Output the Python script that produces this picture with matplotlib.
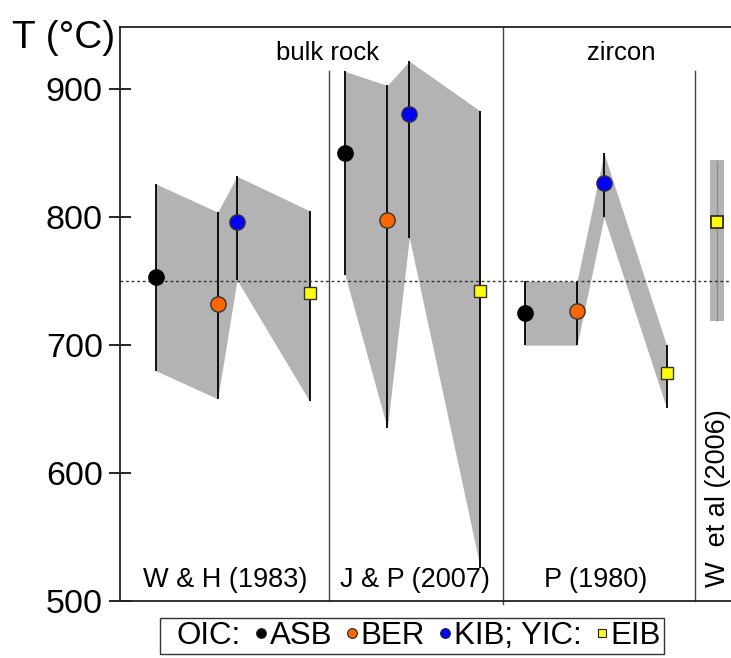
import numpy as np
import matplotlib.pyplot as plt
from matplotlib.lines import Line2D

plt.rcParams['font.family'] = ['Liberation Sans', 'DejaVu Sans']

# estimated temperatures (deg C) per unit, with lower / upper bounds
groups = ['ASB', 'BER', 'KIB', 'EIB']
colors = ['#000000', '#ff6600', '#0000ff', '#ffff00']
shapes = ['o', 'o', 'o', 's']

wh_t = [753, 732, 796, 741]
wh_lo = [680, 658, 751, 656]
wh_hi = [826, 804, 832, 805]

jp_t = [850, 798, 881, 742]
jp_lo = [755, 635, 784, 526]
jp_hi = [914, 903, 922, 883]

p_t = [725, 727, 827, 678]
p_lo = [700, 700, 800, 651]
p_hi = [750, 750, 850, 700]

w_t = 796
w_lo = 719
w_hi = 845

methods = ['W & H (1983)', 'J & P (2007)', 'P (1980)', 'W  et al (2006)']
ref_T = 750

# horizontal layout of the columns
panel_x = [[156, 217.7, 237, 309.7],
           [345, 387.3, 409.3, 480.3],
           [524.7, 577, 604, 666.5]]
w_x = 717
method_x = [224.7, 415, 596]
# (x, bottom, top) of the panel separators
dividers = [(329, 500, 914), (503, 498, 948.7), (695, 500, 914)]

fig = plt.figure(figsize=(7.31, 6.58), dpi=100)
ax = fig.add_axes([119.5 / 731, 1 - 601 / 658, 1 - 119.5 / 731, (601 - 27) / 658])
ax.set_xlim(119.5, 731)
ax.set_ylim(500, 948.7)

gray = '#b3b3b3'
for xs, t, lo, hi in zip(panel_x, [wh_t, jp_t, p_t], [wh_lo, jp_lo, p_lo], [wh_hi, jp_hi, p_hi]):
    ax.fill_between(xs, lo, hi, color=gray, lw=0, zorder=1)
    ax.vlines(xs, lo, hi, color='black', lw=1.3, zorder=2)
    for x, v, c, m in zip(xs, t, colors, shapes):
        ax.plot(x, v, marker=m, ms=11 if m == 'o' else 8, color=c,
                mec='black' if c == '#000000' else '#333333', mew=1, zorder=3)

# single whole-rock range
ax.bar(w_x, w_hi - w_lo, bottom=w_lo, width=14, color=gray, lw=0, zorder=1)
ax.vlines(w_x, w_lo, w_hi, color='#8c8c8c', lw=1, zorder=2)
ax.plot(w_x, w_t, marker='s', ms=8, color=colors[3], mec='#222222', mew=1.2, zorder=3)

ax.axhline(ref_T, color='#333333', lw=1, ls=(0, (2, 2)), zorder=2)

for x, y0, y1 in dividers:
    ax.plot([x, x], [y0, y1], color='#444444', lw=1, clip_on=False, zorder=2)

ax.text(328, 923, 'bulk rock', fontsize=18.5, ha='center', va='baseline')
ax.text(621, 923, 'zircon', fontsize=18.5, ha='center', va='baseline')
for x, name in zip(method_x, methods[:3]):
    ax.text(x, 511, name, fontsize=19.5, ha='center', va='baseline')
ax.text(718, 511, methods[3], fontsize=19.5, ha='center', va='bottom', rotation=90)

ax.spines['right'].set_visible(False)
for s in ['left', 'top', 'bottom']:
    ax.spines[s].set_linewidth(1.3)
    ax.spines[s].set_color('#222222')
ax.set_xticks([])
ax.set_yticks([500, 600, 700, 800, 900])
ax.tick_params(axis='y', direction='inout', length=16, width=1.2, labelsize=24.5, pad=4)

fig.text(12 / 731, 1 - 48 / 658, 'T (°C)', fontsize=28, ha='left', va='baseline')

handles = [Line2D([], [], ls='none')]
labels = ['OIC:']
for g, c, m in zip(groups, colors, shapes):
    handles.append(Line2D([], [], ls='none', marker=m, ms=7 if m == 'o' else 6,
                          color=c, mec='#222222', mew=0.8))
    labels.append('KIB; YIC:' if g == 'KIB' else g)
fig.legend(handles, labels, ncol=5, loc='upper center', bbox_to_anchor=(412 / 731, 1 - 618 / 658),
           fontsize=22.5, frameon=True, fancybox=False, edgecolor='#333333', framealpha=1,
           handlelength=0.3, handletextpad=0.12, columnspacing=0.5, borderpad=0.1,
           borderaxespad=0)

fig.savefig('out.png', dpi=100)
